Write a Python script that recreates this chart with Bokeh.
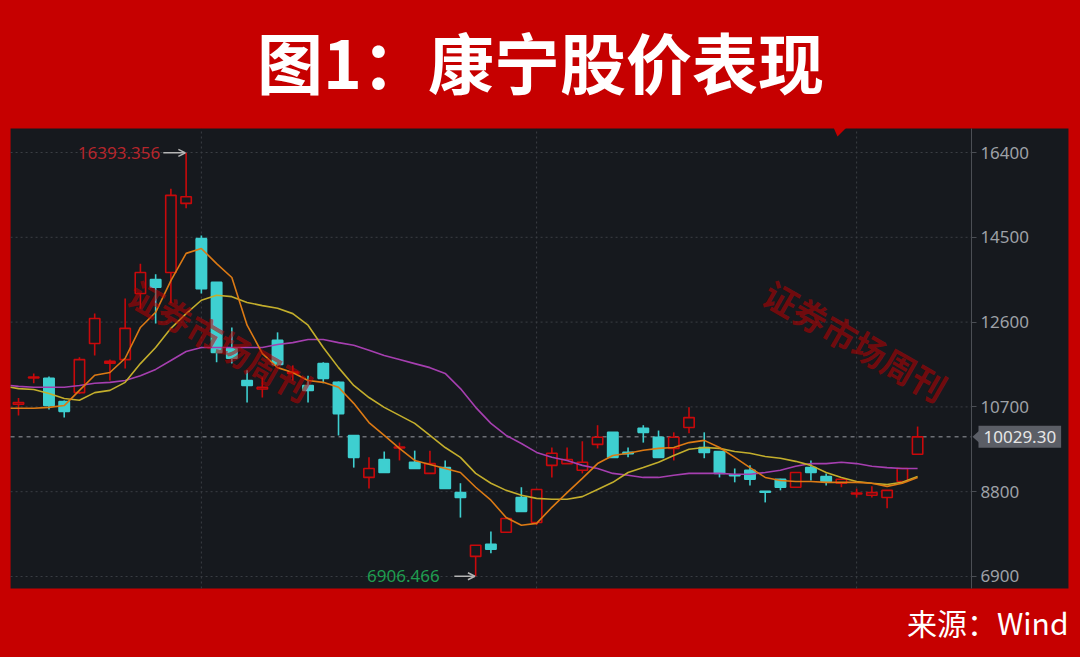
from bokeh.plotting import figure
from bokeh.models import (FixedTicker, Range1d, Label, Arrow, OpenHead,
                          PolyAnnotation, GlobalInlineStyleSheet, ColumnDataSource)
from bokeh.embed import file_html
from bokeh.resources import INLINE

# ---------------- data ----------------
opens = [10760, 11350, 11340, 10820, 11020, 12120, 11680, 11760, 13240, 13555,
         13710, 15260, 14470, 13490, 12010, 11290, 11100, 12190, 11450, 11180,
         11670, 11250, 10060, 9120, 9520, 9780, 9460, 9210, 9340, 8780,
         7350, 7620, 7890, 8670, 8110, 9390, 9430, 9280, 9860, 10130,
         9680, 10220, 10020, 9770, 10240, 9790, 9700, 9180, 9280, 8810,
         9080, 8900, 9340, 9140, 8990, 8750, 8720, 8670, 9030, 9640]
highs = [10900, 11450, 11380, 10845, 11810, 12790, 11760, 13130, 13910, 13670,
         15590, 16393.356, 14540, 13500, 12480, 11520, 11360, 12370, 11630, 11400,
         11700, 11270, 10070, 9570, 9700, 9900, 9720, 9720, 9500, 8990,
         7600, 7910, 8210, 8900, 8870, 9790, 9790, 9930, 10290, 10140,
         9790, 10290, 10170, 10130, 10690, 10130, 9710, 9320, 9390, 8815,
         9090, 9240, 9500, 9210, 9080, 8870, 8920, 8830, 9330, 10260]
lows = [10510, 11230, 10640, 10465, 10990, 11850, 11290, 11560, 12900, 12570,
        13020, 15150, 13240, 11700, 11670, 10800, 10910, 11620, 11290, 10800,
        11230, 10060, 9340, 8870, 9220, 9500, 9310, 9200, 8860, 8220,
        6906.466, 7420, 7880, 8350, 8050, 9120, 9430, 9210, 9770, 9560,
        9570, 9900, 9560, 9500, 10110, 9550, 9120, 9010, 8940, 8560,
        8830, 8890, 9050, 8940, 8900, 8670, 8670, 8430, 9020, 9630]
closes = [10800, 11370, 10730, 10600, 11760, 12680, 11720, 12460, 13710, 13380,
          15440, 15410, 13350, 11920, 11790, 11180, 11140, 11650, 11480, 11070,
          11340, 10550, 9570, 9320, 9230, 9800, 9320, 9430, 8870, 8670,
          7600, 7510, 8200, 8360, 8850, 9660, 9520, 9460, 10020, 9570,
          9650, 10130, 9570, 10020, 10460, 9680, 9210, 9160, 9080, 8790,
          8900, 9230, 9230, 9030, 9080, 8770, 8780, 8830, 9320, 10029.30]

# moving averages: first value is at the left edge of the panel, then one per candle
ma_short = [10670, 10670, 10670, 10690, 10730, 11070, 11410, 11470, 11790, 12480, 12820,
            13530, 14140, 14250, 13910, 13600, 12530, 11900, 11580, 11470, 11290,
            11250, 11140, 10780, 10350, 10060, 9770, 9500, 9410, 9320, 9230,
            8900, 8610, 8220, 8050, 8090, 8450, 8780, 9100, 9430, 9610,
            9660, 9730, 9770, 9790, 9900, 9950, 9790, 9570, 9340, 9120,
            9050, 9030, 9030, 9010, 9010, 9010, 8990, 8920, 8990, 9120]
ma_mid = [11140, 11110, 11090, 11000, 10890, 10850, 11020, 11070, 11250, 11670, 12030,
          12460, 12790, 13090, 13200, 13170, 13040, 12970, 12910, 12790, 12530,
          12030, 11580, 11180, 10910, 10690, 10510, 10330, 10060, 9790, 9570,
          9210, 8990, 8830, 8720, 8650, 8630, 8630, 8690, 8850, 9010,
          9230, 9340, 9460, 9610, 9750, 9790, 9770, 9700, 9660, 9590,
          9550, 9480, 9390, 9230, 9120, 9030, 8990, 8960, 9010, 9140]
ma_long = [11180, 11160, 11140, 11140, 11140, 11180, 11230, 11250, 11290, 11400, 11540,
           11740, 11940, 12030, 12030, 12030, 12030, 12030, 12100, 12140, 12210,
           12210, 12140, 12080, 11970, 11850, 11760, 11670, 11580, 11450, 11110,
           10690, 10330, 10060, 9880, 9680, 9570, 9500, 9390, 9320, 9210,
           9170, 9120, 9120, 9170, 9210, 9210, 9210, 9190, 9190, 9230,
           9280, 9370, 9430, 9430, 9460, 9430, 9370, 9340, 9320, 9320]

y_ticks = [6900, 8800, 10700, 12600, 14500, 16400]
period_breaks = [12, 34, 55]
last_price = 10029.30

title_text = "图1：康宁股价表现"
source_text = "来源：Wind"
watermark_text = "证券市场周刊"

# ---------------- styles / layout ----------------
BG = "#16191e"
FRAME_RED = "#c60000"
UP = "#c8090b"
DOWN = "#3ecfd0"
GRID = "#3b3e44"

W, H = 1080, 657
PX0, PX1 = -0.52, 68.9        # dark panel, index units
AXIS_X = 62.53                # price axis position
PY0, PY1 = 6631, 16938        # dark panel, price units
VX0, VX1 = -1.181, 69.69      # whole canvas, index units
VY0, VY1 = 5085, 19806        # whole canvas, price units

n = len(opens)
idx = list(range(n))
up = [c >= o for o, c in zip(opens, closes)]
colors = [UP if u else DOWN for u in up]
fills = [BG if u else DOWN for u in up]
tops = [max(o, c) for o, c in zip(opens, closes)]
bots = [min(o, c) for o, c in zip(opens, closes)]
src = ColumnDataSource(dict(x=idx, o=opens, h=highs, l=lows, c=closes,
                            top=tops, bot=bots, color=colors, fill=fills))
ma_x = [PX0] + idx

p = figure(width=W, height=H, output_backend="svg", toolbar_location=None, title=None,
           x_range=Range1d(VX0, VX1), y_range=Range1d(VY0, VY1),
           x_axis_location=None, y_axis_location="right", min_border=0,
           background_fill_color=FRAME_RED, border_fill_color=FRAME_RED, outline_line_color=None)

p.stylesheets = [GlobalInlineStyleSheet(css="html, body { background-color: %s; }" % FRAME_RED)]

for g in (p.xgrid[0], p.ygrid[0]):
    g.grid_line_color = None

# dark chart panel
p.quad(left=[PX0], right=[PX1], bottom=[PY0], top=[PY1], fill_color=BG, line_color=None)

# grid lines
p.segment(x0=[PX0] * len(y_ticks), y0=y_ticks, x1=[AXIS_X] * len(y_ticks), y1=y_ticks,
          line_color=GRID, line_dash="2 3", line_width=1)
p.segment(x0=period_breaks, y0=[PY0] * len(period_breaks), x1=period_breaks,
          y1=[PY1] * len(period_breaks), line_color=GRID, line_dash="2 3", line_width=1)

# y axis (inside the dark panel)
ax = p.yaxis[0]
ax.fixed_location = AXIS_X
ax.bounds = (PY0, PY1)
ax.ticker = FixedTicker(ticks=y_ticks)
ax.axis_line_color = "#4b4e54"
ax.major_tick_line_color = "#4b4e54"
ax.major_tick_out = 5
ax.major_tick_in = 0
ax.minor_tick_line_color = None
ax.major_label_text_color = "#9ea1a7"
ax.major_label_text_font = "Noto Sans"
ax.major_label_text_font_size = "17px"
ax.major_label_standoff = 4

# current price line
p.segment(x0=[PX0], y0=[last_price], x1=[AXIS_X], y1=[last_price],
          line_color="#6d7076", line_dash="4 4", line_width=1.5)

# candles
p.segment(x0="x", y0="l", x1="x", y1="h", source=src, line_color="color", line_width=1.6)
p.vbar(x="x", width=0.68, top="top", bottom="bot", source=src,
       fill_color="fill", line_color="color", line_width=1.6)

# moving averages
p.line(ma_x, ma_long, line_color="#a63fb0", line_width=1.6)
p.line(ma_x, ma_mid, line_color="#c3ae2c", line_width=1.6)
p.line(ma_x, ma_short, line_color="#dc7a14", line_width=1.6)

# watermarks
for wx in (220, 855):
    p.add_layout(Label(x=wx, y=317, x_units="screen", y_units="screen", text=watermark_text,
                       angle=-0.52, text_align="center", text_baseline="middle",
                       text_font="Noto Sans CJK SC", text_font_style="bold",
                       text_font_size="34px", text_color="#c00000", text_alpha=0.55))

# max / min markers
imax = highs.index(max(highs))
imin = lows.index(min(lows))
arrow_col = "#b5b5b5"
p.add_layout(Label(x=imax, y=highs[imax], x_offset=-26, text="%.3f" % highs[imax],
                   text_align="right", text_baseline="middle", text_color="#b5262c",
                   text_font="Noto Sans", text_font_size="17px"))
p.add_layout(Arrow(end=OpenHead(size=7, line_color=arrow_col, line_width=1.5),
                   x_start=imax - 1.5, y_start=highs[imax], x_end=imax - 0.05, y_end=highs[imax],
                   line_color=arrow_col, line_width=1.5))
p.add_layout(Label(x=imin, y=lows[imin], x_offset=-36, text="%.3f" % lows[imin],
                   text_align="right", text_baseline="middle", text_color="#1f9d50",
                   text_font="Noto Sans", text_font_size="17px"))
p.add_layout(Arrow(end=OpenHead(size=7, line_color=arrow_col, line_width=1.5),
                   x_start=imin - 1.4, y_start=lows[imin], x_end=imin - 0.05, y_end=lows[imin],
                   line_color=arrow_col, line_width=1.5))

# price tag on the axis
p.add_layout(PolyAnnotation(xs=[972, 979, 979], ys=[last_price, last_price + 140, last_price - 140],
                            xs_units="screen", ys_units="data",
                            fill_color="#5b5e66", fill_alpha=1.0, line_color=None))
p.add_layout(Label(x=978, y=last_price, x_units="screen", text="%.2f" % last_price,
                   text_align="left", text_baseline="middle", text_color="#e6e6e6",
                   text_font="Noto Sans", text_font_size="17px",
                   background_fill_color="#5b5e66", background_fill_alpha=1.0, padding=5))

# small notch of the red frame
p.add_layout(PolyAnnotation(xs=[833, 846, 837], ys=[530, 530, 521],
                            xs_units="screen", ys_units="screen",
                            fill_color=FRAME_RED, fill_alpha=1.0, line_color=None))

# title and source
p.add_layout(Label(x=540, y=H - 59, x_units="screen", y_units="screen", text=title_text,
                   text_align="center", text_baseline="middle", text_color="white",
                   text_font="Noto Sans CJK SC", text_font_style="bold", text_font_size="66px"))
p.add_layout(Label(x=1068, y=H - 621, x_units="screen", y_units="screen", text=source_text,
                   text_align="right", text_baseline="middle", text_color="white",
                   text_font="Noto Sans CJK SC", text_font_size="30px"))

open("out.html", "w").write(file_html(p, INLINE))
